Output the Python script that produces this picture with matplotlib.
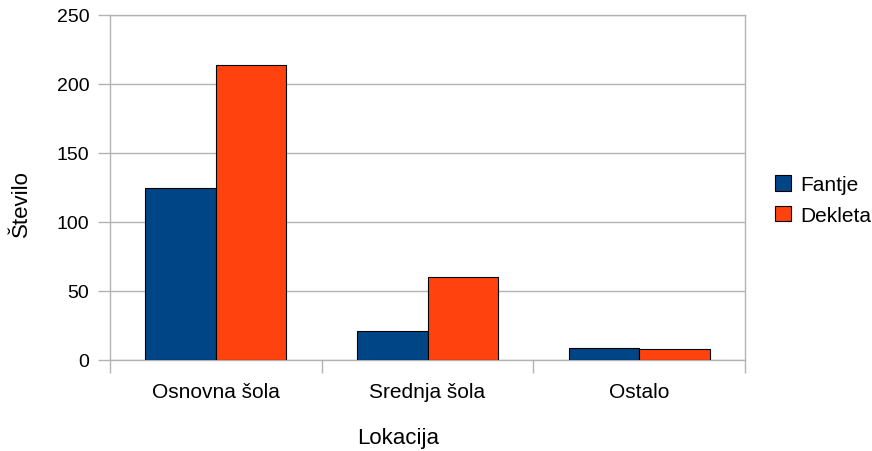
import matplotlib
matplotlib.use("Agg")
import matplotlib.pyplot as plt
import numpy as np
from matplotlib.patches import Patch

plt.rcParams['font.family'] = ['Liberation Sans', 'DejaVu Sans']

categories = ["Osnovna šola", "Srednja šola", "Ostalo"]
fantje = [125, 21, 9]
dekleta = [214, 60, 8]
series_names = ["Fantje", "Dekleta"]
colors = ["#004586", "#ff420e"]
grid_c = "#b3b3b3"

fig = plt.figure(figsize=(8.72, 4.52), dpi=100)
ax = fig.add_axes([110/872, 1-361/452, 635/872, 345/452])

x = np.arange(len(categories))
w = 0.333
ax.bar(x - w/2, fantje, w, color=colors[0], edgecolor="black", linewidth=0.8, zorder=3)
ax.bar(x + w/2, dekleta, w, color=colors[1], edgecolor="black", linewidth=0.8, zorder=3)

ax.set_xlim(-0.5, len(categories) - 0.5)
ax.set_ylim(0, 250)
ax.set_yticks(np.arange(0, 251, 50))
ax.yaxis.grid(True, color=grid_c, linewidth=1, zorder=0)
ax.set_axisbelow(True)

ax.set_xticks(x)
ax.set_xticklabels(categories)
ax.set_xticks(np.arange(-0.5, len(categories), 1.0), minor=True)
ax.tick_params(axis='x', which='major', length=0, pad=16, labelsize=15)
ax.tick_params(axis='x', which='minor', length=9, color=grid_c, width=1)
ax.tick_params(axis='y', length=9, color=grid_c, width=1, labelsize=14, pad=6)
for s in ax.spines.values():
    s.set_color(grid_c)
    s.set_linewidth(1)

xl = ax.set_xlabel("Lokacija", fontsize=16)
xl.set_va('center')
ax.xaxis.set_label_coords((398.5 - 110) / 635, (361 - 439) / 345)
yl = ax.set_ylabel("Število", fontsize=16)
yl.set_va('center')
yl.set_ha('center')
ax.yaxis.set_label_coords((21 - 110) / 635, (361 - 204) / 345)

handles = [Patch(facecolor=c, edgecolor="black", linewidth=0.8) for c in colors]
fig.legend(handles, series_names, loc="center left", bbox_to_anchor=(775/872, 1-201/452),
           frameon=False, fontsize=15, handlelength=0.75, handleheight=0.75,
           handletextpad=0.45, labelspacing=0.55, borderpad=0, borderaxespad=0)

fig.savefig("out.png", dpi=100)
